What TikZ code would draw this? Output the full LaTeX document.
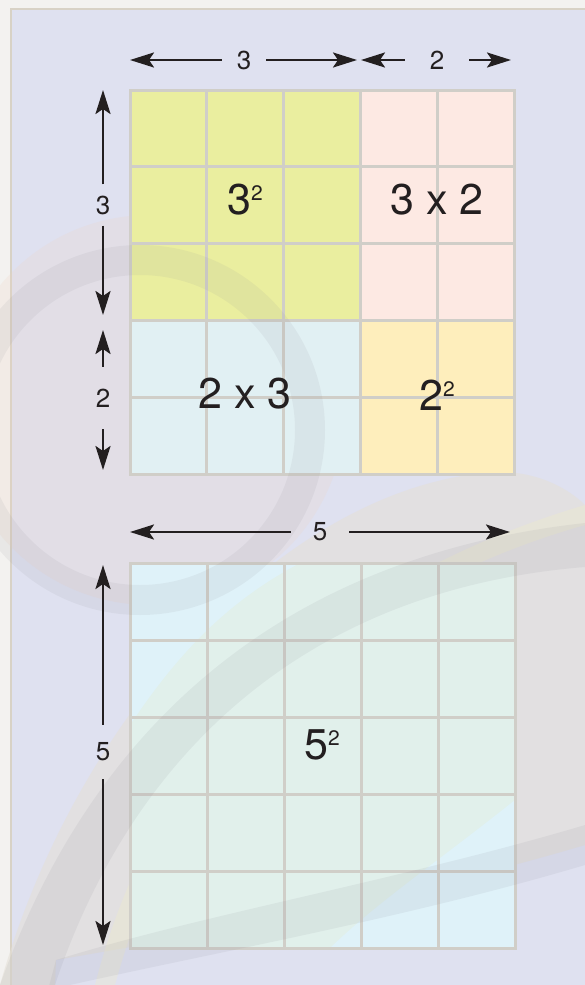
\documentclass[tikz,border=0pt]{standalone}
\usepackage{fontspec}
\setmainfont{TeX Gyre Heros}
\usetikzlibrary{arrows.meta}

\definecolor{marginwhite}{HTML}{F3F2F0}
\definecolor{borderbeige}{HTML}{D8D2C6}
\definecolor{panelbg}{HTML}{DFE1F0}
\definecolor{gridgrey}{HTML}{D0CEC8}
\definecolor{sqyellow}{HTML}{EAEE9F}
\definecolor{sqpink}{HTML}{FDE9E3}
\definecolor{sqblue}{HTML}{E1F0F3}
\definecolor{sqorange}{HTML}{FEEEBC}
\definecolor{sqgreen}{HTML}{E1F0EB}
\definecolor{sqsky}{HTML}{DFF2F9}
\definecolor{arrowink}{HTML}{231F20}
\definecolor{swirlgrey}{HTML}{8C8C96}
\definecolor{swirllight}{RGB}{228,224,215}
\definecolor{warmglow}{RGB}{240,210,190}
\definecolor{paleyellow}{RGB}{240,236,200}

\tikzset{
  cellgrid/.style={draw=gridgrey, line width=3pt, line cap=rect},
  dimarrow/.style={-{Stealth[length=24pt,width=15pt,inset=5pt]}, line width=2.5pt, draw=arrowink},
  dimlabel/.style={font=\fontsize{26}{26}\selectfont, text=arrowink},
  arealabel/.style={font=\fontsize{43}{43}\selectfont, text=arrowink, inner sep=0pt},
}
\newcommand{\sqnum}[1]{#1\raisebox{14pt}{\fontsize{21}{21}\selectfont 2}}

\begin{document}
\begin{tikzpicture}[x=1pt, y=-1pt]
  \useasboundingbox (0,0) rectangle (585,985);
  % --- panel ---
  \fill[marginwhite] (0,0) rectangle (585,985);
  \fill[panelbg] (11,9) rectangle (585,985);
  \draw[borderbeige, line width=1.5pt] (11,985) -- (11,9) -- (585,9);

  % --- swirls behind the squares ---
  \fill[warmglow, opacity=0.2] (150,410) circle (195pt);
  \fill[swirllight, opacity=0.6] (0,985) .. controls (80,700) and (300,480) .. (500,472)
    .. controls (540,472) and (570,490) .. (585,505) -- (585,845)
    .. controls (400,900) and (200,935) .. (56,960) -- (55,985) -- cycle;
  \fill[paleyellow, opacity=0.35] (95,985) .. controls (150,770) and (300,590) .. (585,505)
    -- (585,525) .. controls (320,600) and (170,780) .. (115,985) -- cycle;

  % --- upper square: (3+2)^2 split ---
  \fill[sqyellow] (130,90) rectangle (361,321);
  \fill[sqpink] (361,90) rectangle (514,321);
  \fill[sqblue] (130,321) rectangle (361,474);
  \fill[sqorange] (361,321) rectangle (514,474);
  \foreach \k in {0,...,5}{
    \draw[cellgrid] ({130+76.8*\k},90) -- ({130+76.8*\k},474);
    \draw[cellgrid] (130,{90+76.8*\k}) -- (514,{90+76.8*\k});
  }

  % --- lower square: 5^2 ---
  \fill[sqgreen] (130,563) rectangle (515,948);
  \begin{scope}
    \clip (130,563) rectangle (515,948);
    \fill[sqsky] (130,563) -- (300,563) .. controls (230,600) and (180,650) .. (130,725) -- cycle;
    \fill[sqsky] (515,800) .. controls (440,860) and (380,900) .. (330,948) -- (515,948) -- cycle;
  \end{scope}
  \foreach \k in {0,...,5}{
    \draw[cellgrid] ({130+77*\k},563) -- ({130+77*\k},948);
    \draw[cellgrid] (130,{563+77*\k}) -- (515,{563+77*\k});
  }

  % --- swirls over the squares ---
  \fill[swirlgrey, opacity=0.1, even odd rule] (140,430) circle (185pt) (140,430) circle (155pt);
  \fill[swirlgrey, opacity=0.11] (0,985) .. controls (80,760) and (250,560) .. (585,523)
    -- (585,567) .. controls (300,590) and (130,760) .. (55,985) -- cycle;
  \fill[swirlgrey, opacity=0.11] (56,960) .. controls (200,915) and (400,880) .. (585,825)
    -- (585,865) .. controls (400,920) and (200,955) .. (48,990) -- cycle;

  % --- area labels ---
  \node[arealabel] (a9) at (245,200) {\sqnum{3}};
  \node[arealabel] (a6r) at (437,200) {3 x 2};
  \node[arealabel] (a6b) at (245,394) {2 x 3};
  \node[arealabel] (a4) at (437,395) {\sqnum{2}};
  \node[arealabel] (a25) at (322,745) {\sqnum{5}};

  % --- dimension arrows, top ---
  \node[dimlabel, inner xsep=15pt] (w3) at (244,60) {3};
  \coordinate (w3l) at (130,60);
  \coordinate (w3r) at (357,60);
  \draw[dimarrow] (w3) -- (w3l);
  \draw[dimarrow] (w3) -- (w3r);
  \node[dimlabel, inner xsep=25pt] (w2) at (437,60) {2};
  \coordinate (w2l) at (361,60);
  \coordinate (w2r) at (511,60);
  \draw[dimarrow] (w2) -- (w2l);
  \draw[dimarrow] (w2) -- (w2r);

  % --- dimension arrows, left ---
  \node[dimlabel, inner ysep=11pt] (h3) at (103,205) {3};
  \coordinate (h3t) at (103,90);
  \coordinate (h3b) at (103,315);
  \draw[dimarrow] (h3) -- (h3t);
  \draw[dimarrow] (h3) -- (h3b);
  \node[dimlabel, inner ysep=22pt] (h2) at (103,398) {2};
  \coordinate (h2t) at (103,330);
  \coordinate (h2b) at (103,470);
  \draw[dimarrow] (h2) -- (h2t);
  \draw[dimarrow] (h2) -- (h2b);

  % --- dimension arrows, lower square ---
  \node[dimlabel, inner xsep=22pt] (w5) at (320,532) {5};
  \coordinate (w5l) at (130,532);
  \coordinate (w5r) at (510,532);
  \draw[dimarrow] (w5) -- (w5l);
  \draw[dimarrow] (w5) -- (w5r);
  \node[dimlabel, inner ysep=18pt] (h5) at (103,752) {5};
  \coordinate (h5t) at (103,565);
  \coordinate (h5b) at (103,945);
  \draw[dimarrow] (h5) -- (h5t);
  \draw[dimarrow] (h5) -- (h5b);
\end{tikzpicture}
\end{document}
